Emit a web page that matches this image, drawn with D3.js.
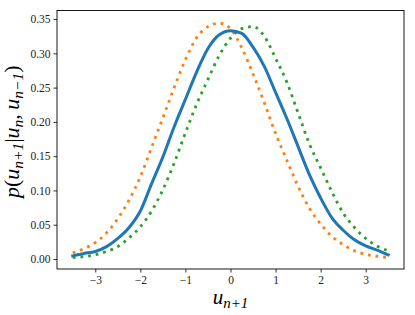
<!DOCTYPE html>
<html>
<head>
<meta charset="utf-8">
<script src="https://cdn.jsdelivr.net/npm/d3@7"></script>
<style>
  body { margin: 0; background: #fff; }
  svg text { font-family: "Liberation Serif", "Times New Roman", "DejaVu Serif", serif !important; }
</style>
</head>
<body>
<div id="chart"></div>
<script>
// values
const uValues = [-3.5, -3.25, -3, -2.75, -2.5, -2.25, -2, -1.75, -1.5, -1.25, -1, -0.75, -0.5, -0.25,
    0, 0.25, 0.5, 0.75, 1, 1.25, 1.5, 1.75, 2, 2.25, 2.5, 2.75, 3, 3.25, 3.5];

const bluePdf = [0.0045, 0.008, 0.011, 0.018, 0.030, 0.046, 0.070, 0.110, 0.149, 0.193, 0.233, 0.273, 0.307, 0.327,
    0.333, 0.329, 0.309, 0.281, 0.243, 0.205, 0.164, 0.123, 0.089, 0.060, 0.042, 0.028, 0.019, 0.013, 0.006];

const orangePdf = [0.009, 0.015, 0.024, 0.038, 0.059, 0.086, 0.120, 0.163, 0.206, 0.250, 0.291, 0.323, 0.339, 0.344,
    0.336, 0.308, 0.270, 0.228, 0.183, 0.144, 0.106, 0.074, 0.051, 0.033, 0.021, 0.012, 0.0068, 0.004, 0.0022];

const greenPdf = [0.002, 0.0035, 0.006, 0.011, 0.018, 0.031, 0.047, 0.070, 0.101, 0.140, 0.184, 0.226, 0.262, 0.297,
    0.322, 0.336, 0.339, 0.325, 0.293, 0.258, 0.213, 0.168, 0.133, 0.098, 0.067, 0.046, 0.030, 0.019, 0.012];

const xTicks = [-3, -2, -1, 0, 1, 2, 3];
const yTicks = [0, 0.05, 0.10, 0.15, 0.20, 0.25, 0.30, 0.35];

// set the dimensions and margins of the graph
const margin = { top: 10.5, right: 11, bottom: 46, left: 57 },
    width = 415 - margin.left - margin.right,
    height = 315 - margin.top - margin.bottom;

const svg = d3.select("#chart")
    .append("svg")
    .attr("width", 415)
    .attr("height", 315)
    .attr("font-family", "Liberation Serif")
    .append("g")
    .attr("transform", `translate(${margin.left}, ${margin.top})`);

const x = d3.scaleLinear()
    .domain([-3.85, 3.85])
    .range([0, width]);

const y = d3.scaleLinear()
    .domain([-0.0146, 0.3625])
    .range([height, 0]);

// axes
const xAxis = svg.append("g")
    .attr("transform", `translate(0, ${height})`)
    .call(d3.axisBottom(x).tickValues(xTicks).tickSize(3.5).tickPadding(3)
        .tickFormat(d => d3.format("d")(d).replace("-", "\u2212")));

const yAxis = svg.append("g")
    .call(d3.axisLeft(y).tickValues(yTicks).tickSize(3.5).tickPadding(3)
        .tickFormat(d3.format(".2f")));

[xAxis, yAxis].forEach(function(a) {
    a.attr("font-family", null).attr("font-size", null);
    a.select(".domain").remove();
    a.selectAll(".tick line").attr("stroke", "#000").attr("stroke-width", 0.8);
    a.selectAll(".tick text")
        .style("font-size", "11.5px")
        .attr("fill", "#222");
});

// lines
const line = d3.line()
    .x(function(d) { return x(d[0]); })
    .y(function(d) { return y(d[1]); })
    .curve(d3.curveMonotoneX);

const series = [
    { values: orangePdf, color: "#ff7f0e", dash: "2.8,4.9" },
    { values: greenPdf, color: "#2ca02c", dash: "2.8,4.9" },
    { values: bluePdf, color: "#1f77b4", dash: null }
];

series.forEach(function(s) {
    svg.append("path")
        .datum(uValues.map(function(u, i) { return [u, s.values[i]]; }))
        .attr("fill", "none")
        .attr("stroke", s.color)
        .attr("stroke-width", s.dash ? 2.8 : 3)
        .attr("stroke-dasharray", s.dash)
        .attr("stroke-linecap", s.dash ? "butt" : "square")
        .attr("d", line);
});

// frame
svg.append("rect")
    .attr("x", 0)
    .attr("y", 0)
    .attr("width", width)
    .attr("height", height)
    .attr("fill", "none")
    .attr("stroke", "#000")
    .attr("stroke-width", 0.9);

// x label
const xl = svg.append("text")
    .attr("text-anchor", "middle")
    .attr("x", x(0))
    .attr("y", height + 35)
    .style("font-size", "21px")
    .style("font-style", "italic");
xl.append("tspan").text("u");
xl.append("tspan").attr("dy", 4).style("font-size", "15px").text("n+1");

// y label
const yl = svg.append("text")
    .attr("text-anchor", "middle")
    .attr("transform", `translate(${-38}, ${height / 2 - 8}) rotate(-90)`)
    .style("font-size", "22px")
    .style("font-style", "italic");
yl.append("tspan").text("p");
yl.append("tspan").style("font-style", "normal").text("(");
yl.append("tspan").text("u");
yl.append("tspan").attr("dy", 4).style("font-size", "15.5px").text("n+1");
yl.append("tspan").attr("dy", -4).style("font-style", "normal").text("|");
yl.append("tspan").text("u");
yl.append("tspan").attr("dy", 4).style("font-size", "15.5px").text("n");
yl.append("tspan").attr("dy", -4).style("font-style", "normal").text(",\u2009");
yl.append("tspan").text("u");
yl.append("tspan").attr("dy", 4).style("font-size", "15.5px").text("n\u22121");
yl.append("tspan").attr("dy", -4).style("font-style", "normal").text(")");
</script>
</body>
</html>
